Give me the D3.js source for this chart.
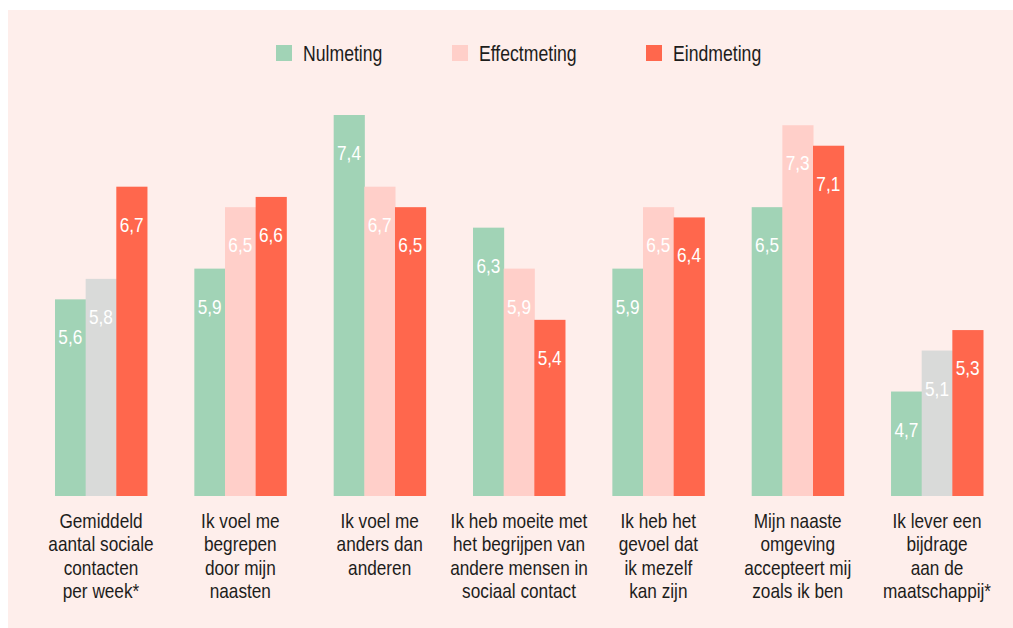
<!DOCTYPE html>
<html>
<head>
<meta charset="utf-8">
<script src="https://cdn.jsdelivr.net/npm/d3@7"></script>
<style>
  body { margin: 0; background: #fff; }
  svg { display: block; }
  text { font-family: "Liberation Sans", Arial, sans-serif; }
</style>
</head>
<body>
<svg width="1013" height="628"></svg>
<script>
// data
var categories = [
  "Gemiddeld\naantal sociale\ncontacten\nper week*",
  "Ik voel me\nbegrepen\ndoor mijn\nnaasten",
  "Ik voel me\nanders dan\nanderen",
  "Ik heb moeite met\nhet begrijpen van\nandere mensen in\nsociaal contact",
  "Ik heb het\ngevoel dat\nik mezelf\nkan zijn",
  "Mijn naaste\nomgeving\naccepteert mij\nzoals ik ben",
  "Ik lever een\nbijdrage\naan de\nmaatschappij*"
];
var series = ["Nulmeting", "Effectmeting", "Eindmeting"];
var nulmeting    = [5.6, 5.9, 7.4, 6.3, 5.9, 6.5, 4.7];
var effectmeting = [5.8, 6.5, 6.7, 5.9, 6.5, 7.3, 5.1];
var eindmeting   = [6.7, 6.6, 6.5, 5.4, 6.4, 7.1, 5.3];
// groups marked with * have a grey effectmeting bar
var starred = [true, false, false, false, false, false, true];

var colors = {Nulmeting: "#a1d3b6", Effectmeting: "#ffcfc9", Eindmeting: "#ff674d"};
var grey = "#d9dad9";
var narrow = 0.82; // condensed look, like the original font

var svg = d3.select("svg"),
    width = +svg.attr("width"),
    height = +svg.attr("height");

svg.append("rect")
    .attr("x", 8).attr("y", 10)
    .attr("width", width - 8).attr("height", height - 10)
    .attr("fill", "#feeeeb");

var x0 = d3.scaleBand()
    .domain(d3.range(categories.length))
    .range([55, 983])
    .paddingInner(0.34)
    .paddingOuter(0);

var x1 = d3.scaleBand()
    .domain(series)
    .range([0, x0.bandwidth()]);

var y = d3.scaleLinear()
    .domain([3.68, 7.4])
    .range([496, 115]);

var rows = categories.map(function(c, i) {
  return {
    i: i,
    values: [
      {key: "Nulmeting", v: nulmeting[i]},
      {key: "Effectmeting", v: effectmeting[i]},
      {key: "Eindmeting", v: eindmeting[i]}
    ]
  };
});

var groups = svg.append("g").selectAll("g")
    .data(rows)
  .enter().append("g")
    .attr("transform", function(d) { return "translate(" + x0(d.i) + ",0)"; });

var bars = groups.selectAll("g")
    .data(function(d) { return d.values.map(function(v) { v.i = d.i; return v; }); })
  .enter().append("g");

bars.append("rect")
    .attr("x", function(d) { return x1(d.key); })
    .attr("y", function(d) { return y(d.v); })
    .attr("width", x1.bandwidth() + 0.5)
    .attr("height", function(d) { return y.range()[0] - y(d.v); })
    .attr("fill", function(d) {
      if (d.key == "Effectmeting" && starred[d.i]) return grey;
      return colors[d.key];
    });

var fmt = function(v) { return d3.format(".1f")(v).replace(".", ","); };

bars.append("g")
    .attr("transform", function(d) {
      return "translate(" + (x1(d.key) + x1.bandwidth() / 2) + "," + (y(d.v) + 45) + ") scale(" + narrow + ",1)";
    })
  .append("text")
    .attr("text-anchor", "middle")
    .attr("fill", "#fff")
    .attr("font-size", 21)
    .text(function(d) { return fmt(d.v); });

// category labels
var labels = svg.append("g").selectAll("g")
    .data(categories)
  .enter().append("g")
    .attr("transform", function(d, i) {
      return "translate(" + (x0(i) + x0.bandwidth() / 2) + ",528) scale(" + narrow + ",1)";
    })
  .append("text")
    .attr("text-anchor", "middle")
    .attr("fill", "#1d1d1b")
    .attr("font-size", 21);

labels.selectAll("tspan")
    .data(function(d) { return d.split("\n"); })
  .enter().append("tspan")
    .attr("x", 0)
    .attr("dy", function(d, i) { return i ? 23.4 : 0; })
    .text(function(d) { return d; });

// legend
var legendX = [276, 452, 646];
var legend = svg.append("g").selectAll("g")
    .data(series)
  .enter().append("g")
    .attr("transform", function(d, i) { return "translate(" + legendX[i] + ",45)"; });

legend.append("rect")
    .attr("width", 16).attr("height", 16)
    .attr("fill", function(d) { return colors[d]; });

legend.append("g")
    .attr("transform", "translate(27,16) scale(" + narrow + ",1)")
  .append("text")
    .attr("fill", "#1d1d1b")
    .attr("font-size", 21.5)
    .text(function(d) { return d; });
</script>
</body>
</html>
